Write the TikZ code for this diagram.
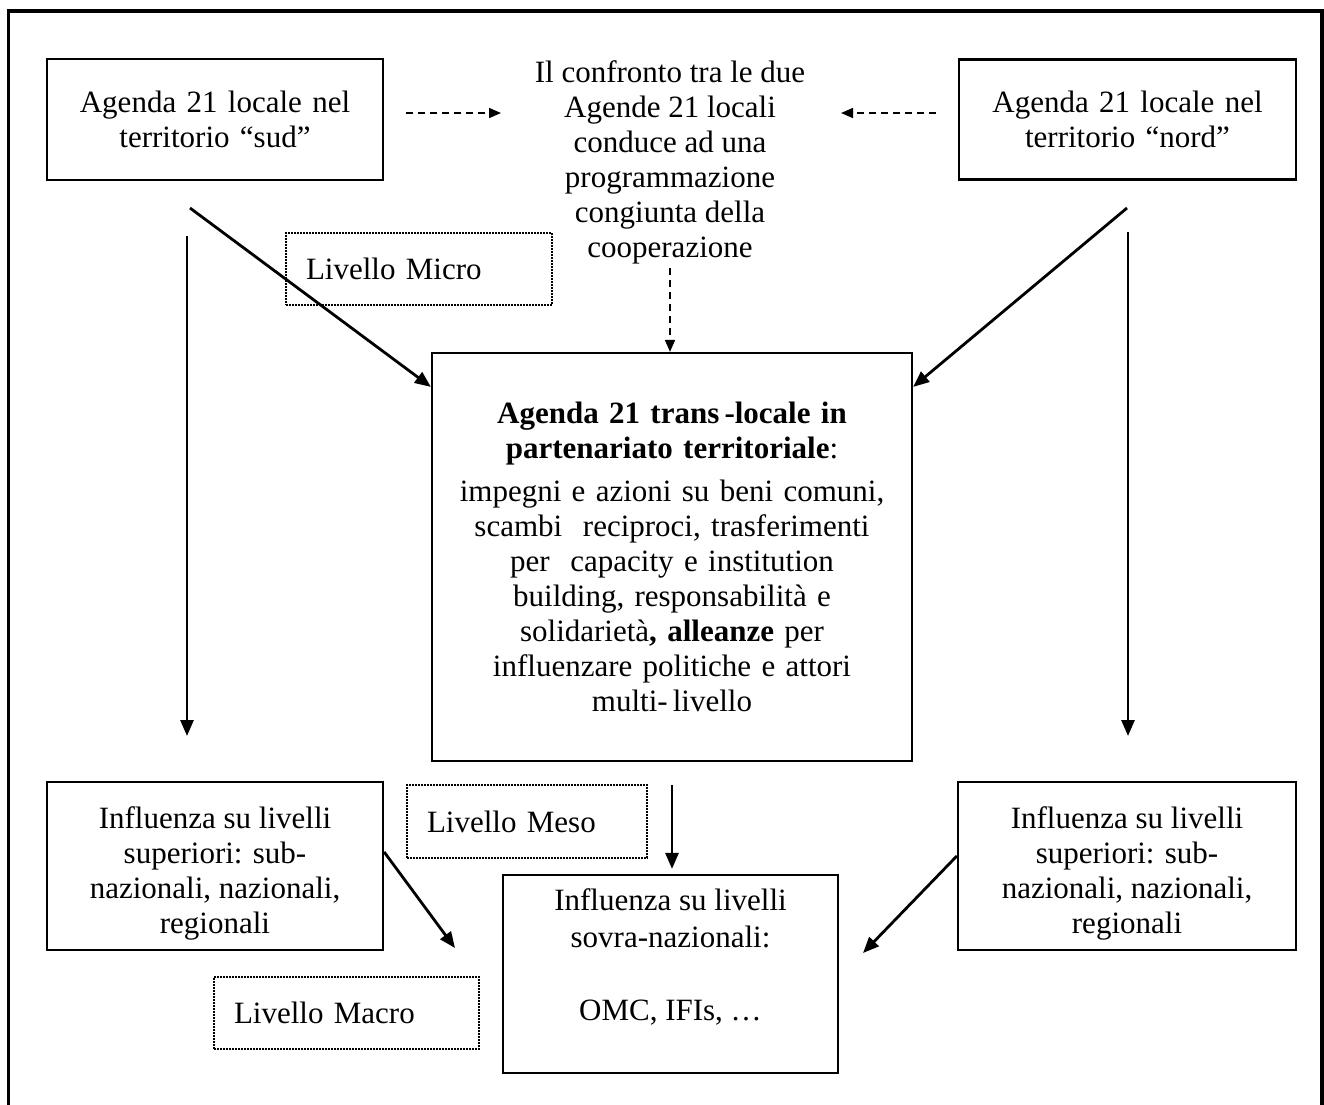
\documentclass[tikz,border=0pt]{standalone}
\usepackage{fontspec}
\setmainfont{Liberation Serif}
\usetikzlibrary{arrows.meta,calc}
\begin{document}
\begin{tikzpicture}[x=1pt,y=-1pt,
  every node/.style={font=\fontsize{31}{35}\selectfont},
  box/.style={draw, line width=2.2pt, inner sep=0pt, align=center},
  lvl/.style={draw, line width=1.5pt, dash pattern=on 2pt off 1pt, inner xsep=20pt, inner ysep=0pt, align=left},
  arr/.style={line width=2.8pt, -{Triangle[length=16pt,width=13pt]}},
  darr/.style={line width=1.6pt, dash pattern=on 7pt off 5pt, -{Triangle[length=12pt,width=10pt]}}]
\useasboundingbox (0,0) rectangle (1324,1104);
% outer frame
\draw[line width=3.2pt] (8.5,1130) -- (8.5,11) -- (1322,11) -- (1322,1130);

\node[box, minimum width=336pt, minimum height=121pt, text width=320pt] (sud) at (215,119.5) {Agenda 21 locale nel\\ territorio “sud”};
\node[box, minimum width=337pt, minimum height=120pt, text width=320pt] (nord) at (1127.5,119.5) {Agenda 21 locale nel\\ territorio “nord”};
\node[align=center, inner sep=4pt] (confronto) at (670,162) {Il confronto tra le due\\ Agende 21 locali\\ conduce ad una\\ programmazione\\ congiunta della\\ cooperazione};

\node[lvl, minimum width=266pt, minimum height=72pt, text width=226pt] (micro) at (419,269) {Livello Micro};

\node[box, minimum width=480pt, minimum height=408pt, text width=470pt] (central) at (672,557)
 {\textbf{Agenda 21 trans\,-locale in}\\ \textbf{partenariato territoriale}:\\[8pt]
  impegni e azioni su beni comuni,\\ scambi\ \ reciproci, trasferimenti\\ per\ \ capacity e institution\\ building, responsabilità e\\ solidarietà\textbf{, alleanze} per\\ influenzare politiche e attori\\ multi-\,livello};

\node[lvl, minimum width=240pt, minimum height=73pt, text width=200pt] (meso) at (527,821.5) {Livello Meso};
\node[lvl, minimum width=265pt, minimum height=72pt, text width=225pt] (macro) at (346.5,1013) {Livello Macro};

\node[box, minimum width=336pt, minimum height=168pt] (infL) at (215,866)
 {\parbox[c][168pt][t]{320pt}{\centering\vspace*{25pt}Influenza su livelli\\ superiori: sub-\\ nazionali, nazionali,\\ regionali}};
\node[box, minimum width=338pt, minimum height=168pt] (infR) at (1127,866)
 {\parbox[c][168pt][t]{320pt}{\centering\vspace*{25pt}Influenza su livelli\\ superiori: sub-\\ nazionali, nazionali,\\ regionali}};
\node[box, minimum width=335pt, minimum height=198pt] (bottom) at (670.5,974)
 {\parbox[c][198pt][t]{320pt}{\centering\fontsize{31}{37}\selectfont\vspace*{14pt}Influenza su livelli\\ sovra-nazionali:\\[36pt] OMC, IFIs, …}};

% dashed arrows
\coordinate (ds1) at (406,113); \coordinate (ds2) at (501,113);
\coordinate (dn1) at (936,113); \coordinate (dn2) at (841,113);
\draw[darr] (ds1) -- (ds2);
\draw[darr] (dn1) -- (dn2);
\draw[darr] (confronto.south) -- (confronto.south |- central.north);

% diagonal arrows into central box
\coordinate (sl) at (190,208);
\coordinate (nl) at (1127,208);
\draw[arr] (sl) -- ($(central.north west)+(0,35)$);
\draw[arr] (nl) -- ($(central.north east)+(0,35)$);

% long vertical arrows
\coordinate (sv1) at (187,236); \coordinate (sv2) at (187,736);
\coordinate (nv1) at (1128,232); \coordinate (nv2) at (1128,736);
\draw[arr] (sv1) -- (sv2);
\draw[arr] (nv1) -- (nv2);

% central down
\coordinate (cd) at (672,785);
\draw[arr, shorten >=5pt] (cd) -- (cd |- bottom.north);

% influence arrows into bottom box
\coordinate (bl) at (455,948);
\coordinate (br) at (863,953);
\draw[arr] ($(infL.north east)+(0,71)$) -- (bl);
\draw[arr] ($(infR.north west)+(0,75)$) -- (br);
\end{tikzpicture}
\end{document}
